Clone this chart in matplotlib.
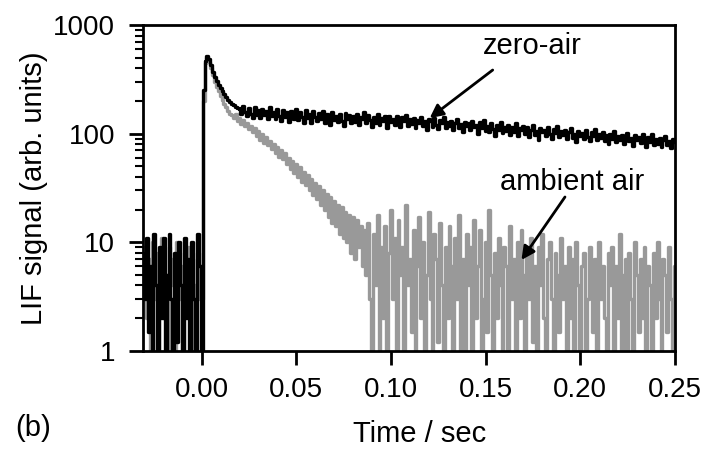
import numpy as np
import matplotlib
matplotlib.use("Agg")
import matplotlib.pyplot as plt
from matplotlib.ticker import LogLocator, NullFormatter, FixedLocator

plt.rcParams['font.family'] = ['Liberation Sans', 'DejaVu Sans']

# sampling: 1 ms steps from -0.031 s to 0.250 s
t_start = -0.031
t_step = 0.001

zero_air_pre = [8, 3, 11, 1.5, 6, 0.5, 12, 4, 0.5, 9, 2, 11, 0.6, 5, 12, 3, 0.5, 8,
                1.2, 10, 4, 0.5, 11, 2, 7, 0.5, 10, 3, 0.6, 12, 6]
zero_air_post = [
    0.7, 250, 470, 520, 485, 425, 372, 332, 302, 282, 263, 246, 230, 216, 206, 197, 189, 183, 177, 172, 169,
    150, 178, 158, 145, 172, 153, 140, 176, 149, 166,
    139, 170, 148, 163, 135, 174, 146, 158, 137, 168,
    144, 130, 166, 141, 157, 128, 162, 147, 135, 169,
    133, 158, 141, 126, 164, 138, 152, 124, 160, 143,
    131, 155, 137, 162, 125, 150, 140, 120, 158, 134,
    146, 127, 153, 132, 118, 156, 136, 149, 124, 144,
    129, 152, 121, 143, 135, 158, 124, 147, 133, 116,
    141, 126, 150, 119, 138, 131, 146, 112, 144, 128,
    136, 120, 145, 127, 114, 141, 131, 148, 118, 135,
    122, 139, 113, 134, 126, 143, 117, 131, 108, 137,
    130, 115, 138, 121, 110, 133, 124, 141, 112, 127,
    118, 131, 107, 126, 136, 113, 123, 103, 129, 117,
    125, 109, 131, 114, 121, 99, 127, 112, 134, 106,
    117, 104, 124, 110, 96, 121, 108, 128, 101, 115,
    106, 119, 98, 114, 104, 125, 95, 112, 108, 117,
    100, 114, 93, 109, 119, 97, 106, 88, 112, 103,
    108, 95, 115, 99, 90, 111, 101, 117, 94, 105,
    97, 108, 89, 103, 112, 92, 100, 84, 106, 95,
    101, 90, 108, 94, 85, 104, 96, 110, 88, 99,
    92, 103, 86, 97, 81, 100, 90, 106, 84, 95,
    88, 98, 80, 94, 102, 85, 91, 77, 97, 87,
    93, 82, 99, 85, 76, 94, 84, 100, 79, 89,
    81, 92, 75, 88, 96, 79, 86, 73, 90, 83,
]

ambient_pre = [6, 9, 2, 7, 0.5, 10, 3, 8, 1, 6, 11, 2, 5, 0.5, 9, 4, 7, 1, 10, 3, 6,
               0.5, 8, 5, 9, 2, 7, 0.5, 4, 8, 3]
ambient_post = [
    3, 200, 450, 500, 455, 400, 345, 300, 270, 245, 222, 205, 188, 176, 163, 152,
    148, 140, 152, 131, 138, 122, 134, 117, 126, 110,
    118, 104, 112, 96, 106, 88, 99, 82, 93, 78,
    86, 72, 81, 66, 76, 61, 70, 58, 66, 52,
    60, 47, 56, 43, 52, 40, 49, 36, 44, 34,
    42, 30, 38, 27, 35, 25, 33, 22, 30, 20,
    28, 17, 26, 15, 24, 14, 22, 12, 21, 11,
    19, 10, 18, 8, 17, 7, 16, 9, 14, 6,
    13, 5, 15, 3, 0.5, 12, 4, 18, 0.6, 9,
    2, 14, 0.5, 8, 20, 3, 11, 0.5, 16, 5,
    9, 0.5, 22, 4, 7, 1.5, 13, 0.5, 6, 17,
    2, 10, 0.5, 5, 19, 3, 0.5, 12, 7, 1.2,
    15, 4, 0.5, 9, 2, 14, 6, 0.5, 11, 3,
    18, 1, 7, 0.5, 12, 4, 9, 0.5, 16, 2,
    6, 13, 0.5, 3, 10, 1.5, 20, 5, 0.5, 8,
    2, 11, 4, 0.5, 9, 6, 1, 14, 3, 7,
    0.5, 10, 2, 13, 5, 0.5, 8, 3, 11, 1.2,
    6, 0.5, 9, 4, 12, 2, 0.5, 7, 10, 3,
    0.5, 8, 5, 1.5, 11, 3, 6, 0.5, 9, 2,
    7, 0.5, 10, 4, 1, 6, 8, 0.5, 3, 9,
    5, 1.5, 7, 0.5, 10, 3, 6, 2, 0.5, 8,
    4, 9, 0.5, 6, 2, 12, 1, 5, 7, 0.5,
    8, 3, 0.5, 10, 5, 1.5, 7, 2, 9, 0.5,
    6, 4, 0.5, 8, 2, 10, 3, 0.5, 7, 5,
    1.5, 9, 3, 0.5, 6,
]

zero_air = np.array(zero_air_pre + zero_air_post, dtype=float)
ambient = np.array(ambient_pre + ambient_post, dtype=float)
t = t_start + t_step * np.arange(len(zero_air))

x_ticks = [0.00, 0.05, 0.10, 0.15, 0.20, 0.25]
x_ticklabels = ["0.00", "0.05", "0.10", "0.15", "0.20", "0.25"]
y_ticks = [1, 10, 100, 1000]
y_ticklabels = ["1", "10", "100", "1000"]

fig = plt.figure(figsize=(7.08, 4.51), dpi=100)
ax = fig.add_axes([0.202, 0.222, 0.751, 0.7226])

ax.plot(t, ambient, color='#999999', lw=2.4, drawstyle='steps-mid', zorder=2)
ax.plot(t, zero_air, color='black', lw=2.4, drawstyle='steps-mid', zorder=3)

ax.set_yscale('log')
ax.set_xlim(-0.031, 0.25)
ax.set_ylim(1, 1000)

ax.set_xticks(x_ticks)
ax.set_xticklabels(x_ticklabels)
ax.yaxis.set_major_locator(FixedLocator(y_ticks))
ax.set_yticklabels(y_ticklabels)
ax.yaxis.set_minor_locator(LogLocator(base=10, subs=np.arange(2, 10)))
ax.yaxis.set_minor_formatter(NullFormatter())
ax.xaxis.set_minor_locator(FixedLocator([]))

for s in ax.spines.values():
    s.set_linewidth(2)
ax.tick_params(axis='both', which='major', direction='out', length=10, width=2,
               labelsize=20, top=False, right=False)
ax.tick_params(axis='x', which='major', pad=9)
ax.tick_params(axis='y', which='major', pad=10)
ax.tick_params(axis='y', which='minor', direction='out', length=6, width=1.5)

ax.set_xlabel("Time / sec", fontsize=21)
ax.xaxis.set_label_coords((420 - 143) / 532, -(420 - 351) / 326)
ax.set_ylabel("LIF signal (arb. units)", fontsize=21)
ax.yaxis.set_label_coords(-(143 - 48) / 532, 0.5)

arrow_kw = dict(arrowstyle='-|>', color='black', lw=2, mutation_scale=20,
                shrinkA=0, shrinkB=0)
ax.annotate("", xy=(0.1205, 139), xytext=(0.1538, 385), arrowprops=arrow_kw)
ax.annotate("", xy=(0.169, 6.87), xytext=(0.192, 26.1), arrowprops=arrow_kw)
ax.text(0.175, 640, "zero-air", fontsize=21, ha='center', va='center')
ax.text(0.196, 36, "ambient air", fontsize=21, ha='center', va='center')

fig.text(15 / 708, 1 - 428 / 451, "(b)", fontsize=21, ha='left', va='center')

fig.savefig("out.png", dpi=100)
